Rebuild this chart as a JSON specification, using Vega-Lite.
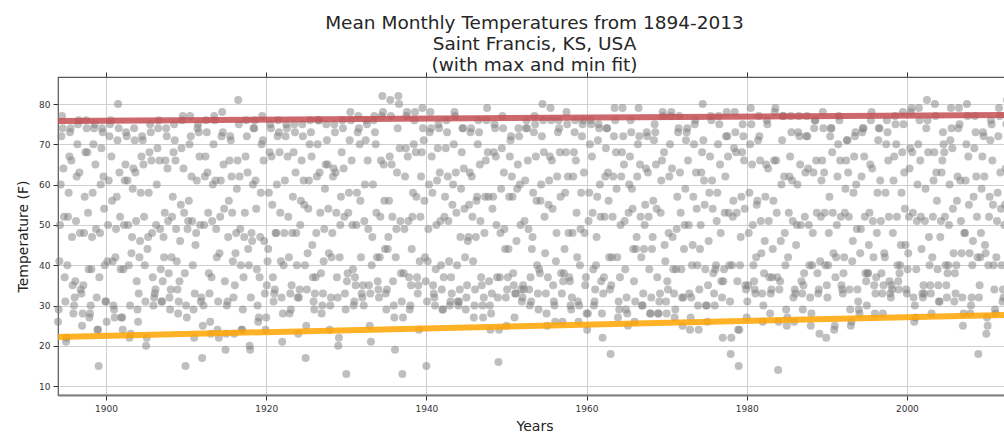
{
"$schema":"https://vega.github.io/schema/vega-lite/v6.json",
"width":953,"height":318,
"autosize":"none",
"padding":{"left":58,"top":77,"right":0,"bottom":42},
"background":"white",
"title":{"text":["Mean Monthly Temperatures from 1894-2013","Saint Francis, KS, USA","(with max and min fit)"],"font":"DejaVu Sans","fontSize":18.5,"fontWeight":"normal","color":"#262626","lineHeight":21,"anchor":"middle","offset":-3},
"config":{"view":{"stroke":"#555","strokeWidth":1.2},
"axis":{"labelFont":"DejaVu Sans","titleFont":"DejaVu Sans","labelFontSize":9,"labelColor":"#333","titleFontSize":14,"titleFontWeight":"normal","titleColor":"#222","tickColor":"#333","tickSize":5,"gridColor":"#cfcfcf","gridWidth":1,"domain":false}},
"datasets":{
"fit":[{"x":1894,"t":75.8,"fit":"max"},{"x":2013,"t":77.3,"fit":"max"},{"x":1894,"t":22.2,"fit":"min"},{"x":2013,"t":27.7,"fit":"min"}],
"pts":[
{"x":1894,"t":26},{"x":1894.08,"t":29},{"x":1894.17,"t":41},{"x":1894.25,"t":50},{"x":1894.33,"t":60},{"x":1894.42,"t":72},{"x":1894.5,"t":77},{"x":1894.58,"t":74},{"x":1894.67,"t":64},{"x":1894.75,"t":52},{"x":1894.83,"t":37},{"x":1894.92,"t":31},
{"x":1895,"t":21},{"x":1895.08,"t":22},{"x":1895.17,"t":40},{"x":1895.25,"t":52},{"x":1895.33,"t":58},{"x":1895.42,"t":67},{"x":1895.5,"t":73},{"x":1895.58,"t":74},{"x":1895.67,"t":66},{"x":1895.75,"t":47},{"x":1895.83,"t":35},{"x":1895.92,"t":28},
{"x":1896,"t":30},{"x":1896.08,"t":32},{"x":1896.17,"t":36},{"x":1896.25,"t":51},{"x":1896.33,"t":62},{"x":1896.42,"t":70},{"x":1896.5,"t":75},{"x":1896.58,"t":76},{"x":1896.67,"t":63},{"x":1896.75,"t":48},{"x":1896.83,"t":34},{"x":1896.92,"t":33},
{"x":1897,"t":25},{"x":1897.08,"t":28},{"x":1897.17,"t":35},{"x":1897.25,"t":48},{"x":1897.33,"t":57},{"x":1897.42,"t":68},{"x":1897.5,"t":76},{"x":1897.58,"t":74},{"x":1897.67,"t":68},{"x":1897.75,"t":53},{"x":1897.83,"t":39},{"x":1897.92,"t":27},
{"x":1898,"t":28},{"x":1898.08,"t":30},{"x":1898.17,"t":39},{"x":1898.25,"t":47},{"x":1898.33,"t":58},{"x":1898.42,"t":70},{"x":1898.5,"t":74},{"x":1898.58,"t":75},{"x":1898.67,"t":65},{"x":1898.75,"t":49},{"x":1898.83,"t":32},{"x":1898.92,"t":24},
{"x":1899,"t":24},{"x":1899.08,"t":15},{"x":1899.17,"t":37},{"x":1899.25,"t":48},{"x":1899.33,"t":60},{"x":1899.42,"t":69},{"x":1899.5,"t":74},{"x":1899.58,"t":73},{"x":1899.67,"t":62},{"x":1899.75,"t":54},{"x":1899.83,"t":40},{"x":1899.92,"t":31},
{"x":1900,"t":31},{"x":1900.08,"t":26},{"x":1900.17,"t":41},{"x":1900.25,"t":50},{"x":1900.33,"t":61},{"x":1900.42,"t":72},{"x":1900.5,"t":75},{"x":1900.58,"t":76},{"x":1900.67,"t":67},{"x":1900.75,"t":56},{"x":1900.83,"t":41},{"x":1900.92,"t":30},
{"x":1901,"t":29},{"x":1901.08,"t":27},{"x":1901.17,"t":42},{"x":1901.25,"t":49},{"x":1901.33,"t":57},{"x":1901.42,"t":71},{"x":1901.5,"t":80},{"x":1901.58,"t":74},{"x":1901.67,"t":63},{"x":1901.75,"t":52},{"x":1901.83,"t":39},{"x":1901.92,"t":27},
{"x":1902,"t":27},{"x":1902.08,"t":24},{"x":1902.17,"t":39},{"x":1902.25,"t":50},{"x":1902.33,"t":61},{"x":1902.42,"t":65},{"x":1902.5,"t":73},{"x":1902.58,"t":72},{"x":1902.67,"t":61},{"x":1902.75,"t":50},{"x":1902.83,"t":40},{"x":1902.92,"t":22},
{"x":1903,"t":30},{"x":1903.08,"t":23},{"x":1903.17,"t":43},{"x":1903.25,"t":47},{"x":1903.33,"t":59},{"x":1903.42,"t":64},{"x":1903.5,"t":74},{"x":1903.58,"t":71},{"x":1903.67,"t":63},{"x":1903.75,"t":51},{"x":1903.83,"t":36},{"x":1903.92,"t":29},
{"x":1904,"t":26},{"x":1904.08,"t":33},{"x":1904.17,"t":42},{"x":1904.25,"t":46},{"x":1904.33,"t":58},{"x":1904.42,"t":67},{"x":1904.5,"t":72},{"x":1904.58,"t":71},{"x":1904.67,"t":65},{"x":1904.75,"t":52},{"x":1904.83,"t":40},{"x":1904.92,"t":31},
{"x":1905,"t":20},{"x":1905.08,"t":22},{"x":1905.17,"t":44},{"x":1905.25,"t":47},{"x":1905.33,"t":58},{"x":1905.42,"t":68},{"x":1905.5,"t":75},{"x":1905.58,"t":73},{"x":1905.67,"t":66},{"x":1905.75,"t":48},{"x":1905.83,"t":37},{"x":1905.92,"t":30},
{"x":1906,"t":32},{"x":1906.08,"t":33},{"x":1906.17,"t":34},{"x":1906.25,"t":50},{"x":1906.33,"t":60},{"x":1906.42,"t":69},{"x":1906.5,"t":74},{"x":1906.58,"t":76},{"x":1906.67,"t":66},{"x":1906.75,"t":49},{"x":1906.83,"t":39},{"x":1906.92,"t":31},
{"x":1907,"t":31},{"x":1907.08,"t":36},{"x":1907.17,"t":47},{"x":1907.25,"t":42},{"x":1907.33,"t":53},{"x":1907.42,"t":66},{"x":1907.5,"t":74},{"x":1907.58,"t":72},{"x":1907.67,"t":64},{"x":1907.75,"t":51},{"x":1907.83,"t":38},{"x":1907.92,"t":32},
{"x":1908,"t":29},{"x":1908.08,"t":34},{"x":1908.17,"t":42},{"x":1908.25,"t":52},{"x":1908.33,"t":57},{"x":1908.42,"t":68},{"x":1908.5,"t":75},{"x":1908.58,"t":71},{"x":1908.67,"t":66},{"x":1908.75,"t":49},{"x":1908.83,"t":41},{"x":1908.92,"t":34},
{"x":1909,"t":28},{"x":1909.08,"t":31},{"x":1909.17,"t":36},{"x":1909.25,"t":46},{"x":1909.33,"t":55},{"x":1909.42,"t":69},{"x":1909.5,"t":76},{"x":1909.58,"t":77},{"x":1909.67,"t":64},{"x":1909.75,"t":53},{"x":1909.83,"t":38},{"x":1909.92,"t":15},
{"x":1910,"t":30},{"x":1910.08,"t":27},{"x":1910.17,"t":49},{"x":1910.25,"t":51},{"x":1910.33,"t":56},{"x":1910.42,"t":70},{"x":1910.5,"t":77},{"x":1910.58,"t":72},{"x":1910.67,"t":62},{"x":1910.75,"t":51},{"x":1910.83,"t":40},{"x":1910.92,"t":29},
{"x":1911,"t":22},{"x":1911.08,"t":33},{"x":1911.17,"t":45},{"x":1911.25,"t":48},{"x":1911.33,"t":61},{"x":1911.42,"t":74},{"x":1911.5,"t":75},{"x":1911.58,"t":73},{"x":1911.67,"t":67},{"x":1911.75,"t":50},{"x":1911.83,"t":31},{"x":1911.92,"t":32},
{"x":1912,"t":17},{"x":1912.08,"t":25},{"x":1912.17,"t":30},{"x":1912.25,"t":50},{"x":1912.33,"t":62},{"x":1912.42,"t":67},{"x":1912.5,"t":76},{"x":1912.58,"t":73},{"x":1912.67,"t":63},{"x":1912.75,"t":53},{"x":1912.83,"t":38},{"x":1912.92,"t":33},
{"x":1913,"t":26},{"x":1913.08,"t":23},{"x":1913.17,"t":37},{"x":1913.25,"t":51},{"x":1913.33,"t":60},{"x":1913.42,"t":70},{"x":1913.5,"t":77},{"x":1913.58,"t":76},{"x":1913.67,"t":61},{"x":1913.75,"t":49},{"x":1913.83,"t":42},{"x":1913.92,"t":24},
{"x":1914,"t":31},{"x":1914.08,"t":22},{"x":1914.17,"t":43},{"x":1914.25,"t":52},{"x":1914.33,"t":61},{"x":1914.42,"t":72},{"x":1914.5,"t":78},{"x":1914.58,"t":73},{"x":1914.67,"t":65},{"x":1914.75,"t":54},{"x":1914.83,"t":36},{"x":1914.92,"t":19},
{"x":1915,"t":23},{"x":1915.08,"t":30},{"x":1915.17,"t":31},{"x":1915.25,"t":47},{"x":1915.33,"t":56},{"x":1915.42,"t":66},{"x":1915.5,"t":72},{"x":1915.58,"t":71},{"x":1915.67,"t":62},{"x":1915.75,"t":53},{"x":1915.83,"t":41},{"x":1915.92,"t":32},
{"x":1916,"t":23},{"x":1916.08,"t":35},{"x":1916.17,"t":43},{"x":1916.25,"t":48},{"x":1916.33,"t":59},{"x":1916.42,"t":66},{"x":1916.5,"t":81},{"x":1916.58,"t":75},{"x":1916.67,"t":62},{"x":1916.75,"t":49},{"x":1916.83,"t":40},{"x":1916.92,"t":24},
{"x":1917,"t":24},{"x":1917.08,"t":29},{"x":1917.17,"t":37},{"x":1917.25,"t":47},{"x":1917.33,"t":53},{"x":1917.42,"t":67},{"x":1917.5,"t":76},{"x":1917.58,"t":72},{"x":1917.67,"t":63},{"x":1917.75,"t":44},{"x":1917.83,"t":40},{"x":1917.92,"t":20},
{"x":1918,"t":19},{"x":1918.08,"t":32},{"x":1918.17,"t":48},{"x":1918.25,"t":46},{"x":1918.33,"t":60},{"x":1918.42,"t":74},{"x":1918.5,"t":74},{"x":1918.58,"t":76},{"x":1918.67,"t":61},{"x":1918.75,"t":54},{"x":1918.83,"t":39},{"x":1918.92,"t":30},
{"x":1919,"t":26},{"x":1919.08,"t":27},{"x":1919.17,"t":37},{"x":1919.25,"t":47},{"x":1919.33,"t":58},{"x":1919.42,"t":70},{"x":1919.5,"t":77},{"x":1919.58,"t":71},{"x":1919.67,"t":66},{"x":1919.75,"t":46},{"x":1919.83,"t":33},{"x":1919.92,"t":24},
{"x":1920,"t":27},{"x":1920.08,"t":35},{"x":1920.17,"t":41},{"x":1920.25,"t":44},{"x":1920.33,"t":58},{"x":1920.42,"t":68},{"x":1920.5,"t":75},{"x":1920.58,"t":74},{"x":1920.67,"t":67},{"x":1920.75,"t":55},{"x":1920.83,"t":37},{"x":1920.92,"t":31},
{"x":1921,"t":33},{"x":1921.08,"t":34},{"x":1921.17,"t":48},{"x":1921.25,"t":48},{"x":1921.33,"t":60},{"x":1921.42,"t":72},{"x":1921.5,"t":76},{"x":1921.58,"t":73},{"x":1921.67,"t":68},{"x":1921.75,"t":53},{"x":1921.83,"t":41},{"x":1921.92,"t":32},
{"x":1922,"t":21},{"x":1922.08,"t":28},{"x":1922.17,"t":40},{"x":1922.25,"t":48},{"x":1922.33,"t":61},{"x":1922.42,"t":72},{"x":1922.5,"t":75},{"x":1922.58,"t":74},{"x":1922.67,"t":67},{"x":1922.75,"t":52},{"x":1922.83,"t":42},{"x":1922.92,"t":28},
{"x":1923,"t":33},{"x":1923.08,"t":29},{"x":1923.17,"t":35},{"x":1923.25,"t":48},{"x":1923.33,"t":57},{"x":1923.42,"t":68},{"x":1923.5,"t":75},{"x":1923.58,"t":73},{"x":1923.67,"t":63},{"x":1923.75,"t":48},{"x":1923.83,"t":40},{"x":1923.92,"t":32},
{"x":1924,"t":23},{"x":1924.08,"t":32},{"x":1924.17,"t":34},{"x":1924.25,"t":50},{"x":1924.33,"t":56},{"x":1924.42,"t":66},{"x":1924.5,"t":75},{"x":1924.58,"t":72},{"x":1924.67,"t":61},{"x":1924.75,"t":55},{"x":1924.83,"t":40},{"x":1924.92,"t":17},
{"x":1925,"t":25},{"x":1925.08,"t":34},{"x":1925.17,"t":43},{"x":1925.25,"t":54},{"x":1925.33,"t":61},{"x":1925.42,"t":70},{"x":1925.5,"t":76},{"x":1925.58,"t":73},{"x":1925.67,"t":67},{"x":1925.75,"t":45},{"x":1925.83,"t":37},{"x":1925.92,"t":31},
{"x":1926,"t":29},{"x":1926.08,"t":33},{"x":1926.17,"t":37},{"x":1926.25,"t":48},{"x":1926.33,"t":62},{"x":1926.42,"t":70},{"x":1926.5,"t":76},{"x":1926.58,"t":76},{"x":1926.67,"t":63},{"x":1926.75,"t":53},{"x":1926.83,"t":38},{"x":1926.92,"t":28},
{"x":1927,"t":30},{"x":1927.08,"t":33},{"x":1927.17,"t":41},{"x":1927.25,"t":49},{"x":1927.33,"t":59},{"x":1927.42,"t":65},{"x":1927.5,"t":75},{"x":1927.58,"t":71},{"x":1927.67,"t":65},{"x":1927.75,"t":54},{"x":1927.83,"t":43},{"x":1927.92,"t":24},
{"x":1928,"t":30},{"x":1928.08,"t":32},{"x":1928.17,"t":42},{"x":1928.25,"t":48},{"x":1928.33,"t":62},{"x":1928.42,"t":64},{"x":1928.5,"t":75},{"x":1928.58,"t":73},{"x":1928.67,"t":63},{"x":1928.75,"t":53},{"x":1928.83,"t":37},{"x":1928.92,"t":32},
{"x":1929,"t":20},{"x":1929.08,"t":22},{"x":1929.17,"t":42},{"x":1929.25,"t":50},{"x":1929.33,"t":57},{"x":1929.42,"t":68},{"x":1929.5,"t":76},{"x":1929.58,"t":74},{"x":1929.67,"t":64},{"x":1929.75,"t":52},{"x":1929.83,"t":33},{"x":1929.92,"t":29},
{"x":1930,"t":13},{"x":1930.08,"t":36},{"x":1930.17,"t":38},{"x":1930.25,"t":53},{"x":1930.33,"t":58},{"x":1930.42,"t":71},{"x":1930.5,"t":78},{"x":1930.58,"t":76},{"x":1930.67,"t":66},{"x":1930.75,"t":50},{"x":1930.83,"t":39},{"x":1930.92,"t":30},
{"x":1931,"t":31},{"x":1931.08,"t":37},{"x":1931.17,"t":35},{"x":1931.25,"t":50},{"x":1931.33,"t":58},{"x":1931.42,"t":73},{"x":1931.5,"t":77},{"x":1931.58,"t":74},{"x":1931.67,"t":70},{"x":1931.75,"t":56},{"x":1931.83,"t":42},{"x":1931.92,"t":33},
{"x":1932,"t":32},{"x":1932.08,"t":35},{"x":1932.17,"t":30},{"x":1932.25,"t":51},{"x":1932.33,"t":60},{"x":1932.42,"t":71},{"x":1932.5,"t":76},{"x":1932.58,"t":75},{"x":1932.67,"t":66},{"x":1932.75,"t":49},{"x":1932.83,"t":35},{"x":1932.92,"t":25},
{"x":1933,"t":33},{"x":1933.08,"t":21},{"x":1933.17,"t":40},{"x":1933.25,"t":47},{"x":1933.33,"t":60},{"x":1933.42,"t":76},{"x":1933.5,"t":77},{"x":1933.58,"t":73},{"x":1933.67,"t":70},{"x":1933.75,"t":53},{"x":1933.83,"t":42},{"x":1933.92,"t":36},
{"x":1934,"t":34},{"x":1934.08,"t":32},{"x":1934.17,"t":42},{"x":1934.25,"t":52},{"x":1934.33,"t":66},{"x":1934.42,"t":77},{"x":1934.5,"t":82},{"x":1934.58,"t":78},{"x":1934.67,"t":65},{"x":1934.75,"t":56},{"x":1934.83,"t":44},{"x":1934.92,"t":33},
{"x":1935,"t":29},{"x":1935.08,"t":34},{"x":1935.17,"t":44},{"x":1935.25,"t":47},{"x":1935.33,"t":56},{"x":1935.42,"t":67},{"x":1935.5,"t":81},{"x":1935.58,"t":77},{"x":1935.67,"t":65},{"x":1935.75,"t":52},{"x":1935.83,"t":36},{"x":1935.92,"t":30},
{"x":1936,"t":27},{"x":1936.08,"t":19},{"x":1936.17,"t":42},{"x":1936.25,"t":49},{"x":1936.33,"t":63},{"x":1936.42,"t":74},{"x":1936.5,"t":82},{"x":1936.58,"t":80},{"x":1936.67,"t":69},{"x":1936.75,"t":51},{"x":1936.83,"t":38},{"x":1936.92,"t":31},
{"x":1937,"t":13},{"x":1937.08,"t":27},{"x":1937.17,"t":38},{"x":1937.25,"t":49},{"x":1937.33,"t":62},{"x":1937.42,"t":69},{"x":1937.5,"t":77},{"x":1937.58,"t":78},{"x":1937.67,"t":67},{"x":1937.75,"t":51},{"x":1937.83,"t":37},{"x":1937.92,"t":29},
{"x":1938,"t":30},{"x":1938.08,"t":35},{"x":1938.17,"t":44},{"x":1938.25,"t":52},{"x":1938.33,"t":58},{"x":1938.42,"t":70},{"x":1938.5,"t":76},{"x":1938.58,"t":78},{"x":1938.67,"t":68},{"x":1938.75,"t":57},{"x":1938.83,"t":37},{"x":1938.92,"t":33},
{"x":1939,"t":35},{"x":1939.08,"t":24},{"x":1939.17,"t":41},{"x":1939.25,"t":52},{"x":1939.33,"t":62},{"x":1939.42,"t":68},{"x":1939.5,"t":79},{"x":1939.58,"t":74},{"x":1939.67,"t":71},{"x":1939.75,"t":56},{"x":1939.83,"t":42},{"x":1939.92,"t":36},
{"x":1940,"t":15},{"x":1940.08,"t":31},{"x":1940.17,"t":41},{"x":1940.25,"t":49},{"x":1940.33,"t":60},{"x":1940.42,"t":73},{"x":1940.5,"t":78},{"x":1940.58,"t":74},{"x":1940.67,"t":67},{"x":1940.75,"t":58},{"x":1940.83,"t":35},{"x":1940.92,"t":33},
{"x":1941,"t":32},{"x":1941.08,"t":30},{"x":1941.17,"t":39},{"x":1941.25,"t":50},{"x":1941.33,"t":61},{"x":1941.42,"t":69},{"x":1941.5,"t":75},{"x":1941.58,"t":74},{"x":1941.67,"t":63},{"x":1941.75,"t":51},{"x":1941.83,"t":40},{"x":1941.92,"t":34},
{"x":1942,"t":29},{"x":1942.08,"t":29},{"x":1942.17,"t":37},{"x":1942.25,"t":52},{"x":1942.33,"t":57},{"x":1942.42,"t":69},{"x":1942.5,"t":76},{"x":1942.58,"t":73},{"x":1942.67,"t":62},{"x":1942.75,"t":51},{"x":1942.83,"t":41},{"x":1942.92,"t":30},
{"x":1943,"t":31},{"x":1943.08,"t":37},{"x":1943.17,"t":33},{"x":1943.25,"t":55},{"x":1943.33,"t":60},{"x":1943.42,"t":70},{"x":1943.5,"t":78},{"x":1943.58,"t":77},{"x":1943.67,"t":63},{"x":1943.75,"t":53},{"x":1943.83,"t":40},{"x":1943.92,"t":31},
{"x":1944,"t":30},{"x":1944.08,"t":31},{"x":1944.17,"t":34},{"x":1944.25,"t":47},{"x":1944.33,"t":59},{"x":1944.42,"t":68},{"x":1944.5,"t":74},{"x":1944.58,"t":74},{"x":1944.67,"t":64},{"x":1944.75,"t":54},{"x":1944.83,"t":42},{"x":1944.92,"t":29},
{"x":1945,"t":32},{"x":1945.08,"t":35},{"x":1945.17,"t":46},{"x":1945.25,"t":47},{"x":1945.33,"t":55},{"x":1945.42,"t":63},{"x":1945.5,"t":73},{"x":1945.58,"t":74},{"x":1945.67,"t":62},{"x":1945.75,"t":52},{"x":1945.83,"t":41},{"x":1945.92,"t":27},
{"x":1946,"t":30},{"x":1946.08,"t":34},{"x":1946.17,"t":47},{"x":1946.25,"t":56},{"x":1946.33,"t":57},{"x":1946.42,"t":70},{"x":1946.5,"t":76},{"x":1946.58,"t":73},{"x":1946.67,"t":65},{"x":1946.75,"t":51},{"x":1946.83,"t":37},{"x":1946.92,"t":35},
{"x":1947,"t":30},{"x":1947.08,"t":27},{"x":1947.17,"t":32},{"x":1947.25,"t":48},{"x":1947.33,"t":57},{"x":1947.42,"t":66},{"x":1947.5,"t":76},{"x":1947.58,"t":79},{"x":1947.67,"t":68},{"x":1947.75,"t":57},{"x":1947.83,"t":36},{"x":1947.92,"t":30},
{"x":1948,"t":24},{"x":1948.08,"t":28},{"x":1948.17,"t":33},{"x":1948.25,"t":54},{"x":1948.33,"t":57},{"x":1948.42,"t":68},{"x":1948.5,"t":75},{"x":1948.58,"t":74},{"x":1948.67,"t":67},{"x":1948.75,"t":50},{"x":1948.83,"t":37},{"x":1948.92,"t":32},
{"x":1949,"t":16},{"x":1949.08,"t":24},{"x":1949.17,"t":37},{"x":1949.25,"t":48},{"x":1949.33,"t":59},{"x":1949.42,"t":69},{"x":1949.5,"t":77},{"x":1949.58,"t":74},{"x":1949.67,"t":63},{"x":1949.75,"t":49},{"x":1949.83,"t":44},{"x":1949.92,"t":32},
{"x":1950,"t":25},{"x":1950.08,"t":34},{"x":1950.17,"t":37},{"x":1950.25,"t":44},{"x":1950.33,"t":57},{"x":1950.42,"t":67},{"x":1950.5,"t":71},{"x":1950.58,"t":72},{"x":1950.67,"t":62},{"x":1950.75,"t":57},{"x":1950.83,"t":38},{"x":1950.92,"t":35},
{"x":1951,"t":27},{"x":1951.08,"t":33},{"x":1951.17,"t":33},{"x":1951.25,"t":46},{"x":1951.33,"t":59},{"x":1951.42,"t":65},{"x":1951.5,"t":74},{"x":1951.58,"t":72},{"x":1951.67,"t":60},{"x":1951.75,"t":50},{"x":1951.83,"t":34},{"x":1951.92,"t":31},
{"x":1952,"t":32},{"x":1952.08,"t":35},{"x":1952.17,"t":34},{"x":1952.25,"t":51},{"x":1952.33,"t":61},{"x":1952.42,"t":74},{"x":1952.5,"t":76},{"x":1952.58,"t":74},{"x":1952.67,"t":66},{"x":1952.75,"t":49},{"x":1952.83,"t":34},{"x":1952.92,"t":30},
{"x":1953,"t":37},{"x":1953.08,"t":31},{"x":1953.17,"t":44},{"x":1953.25,"t":47},{"x":1953.33,"t":58},{"x":1953.42,"t":73},{"x":1953.5,"t":77},{"x":1953.58,"t":75},{"x":1953.67,"t":67},{"x":1953.75,"t":56},{"x":1953.83,"t":40},{"x":1953.92,"t":33},
{"x":1954,"t":29},{"x":1954.08,"t":39},{"x":1954.17,"t":38},{"x":1954.25,"t":56},{"x":1954.33,"t":60},{"x":1954.42,"t":72},{"x":1954.5,"t":80},{"x":1954.58,"t":76},{"x":1954.67,"t":68},{"x":1954.75,"t":52},{"x":1954.83,"t":43},{"x":1954.92,"t":33},
{"x":1955,"t":28},{"x":1955.08,"t":25},{"x":1955.17,"t":37},{"x":1955.25,"t":55},{"x":1955.33,"t":61},{"x":1955.42,"t":67},{"x":1955.5,"t":79},{"x":1955.58,"t":76},{"x":1955.67,"t":66},{"x":1955.75,"t":54},{"x":1955.83,"t":35},{"x":1955.92,"t":31},
{"x":1956,"t":30},{"x":1956.08,"t":26},{"x":1956.17,"t":41},{"x":1956.25,"t":48},{"x":1956.33,"t":62},{"x":1956.42,"t":73},{"x":1956.5,"t":76},{"x":1956.58,"t":74},{"x":1956.67,"t":68},{"x":1956.75,"t":57},{"x":1956.83,"t":38},{"x":1956.92,"t":33},
{"x":1957,"t":26},{"x":1957.08,"t":36},{"x":1957.17,"t":38},{"x":1957.25,"t":44},{"x":1957.33,"t":58},{"x":1957.42,"t":68},{"x":1957.5,"t":78},{"x":1957.58,"t":75},{"x":1957.67,"t":62},{"x":1957.75,"t":48},{"x":1957.83,"t":37},{"x":1957.92,"t":36},
{"x":1958,"t":30},{"x":1958.08,"t":29},{"x":1958.17,"t":32},{"x":1958.25,"t":48},{"x":1958.33,"t":62},{"x":1958.42,"t":68},{"x":1958.5,"t":73},{"x":1958.58,"t":76},{"x":1958.67,"t":66},{"x":1958.75,"t":53},{"x":1958.83,"t":42},{"x":1958.92,"t":31},
{"x":1959,"t":26},{"x":1959.08,"t":30},{"x":1959.17,"t":40},{"x":1959.25,"t":49},{"x":1959.33,"t":58},{"x":1959.42,"t":72},{"x":1959.5,"t":75},{"x":1959.58,"t":76},{"x":1959.67,"t":63},{"x":1959.75,"t":48},{"x":1959.83,"t":35},{"x":1959.92,"t":37},
{"x":1960,"t":28},{"x":1960.08,"t":24},{"x":1960.17,"t":28},{"x":1960.25,"t":51},{"x":1960.33,"t":58},{"x":1960.42,"t":70},{"x":1960.5,"t":76},{"x":1960.58,"t":75},{"x":1960.67,"t":67},{"x":1960.75,"t":53},{"x":1960.83,"t":39},{"x":1960.92,"t":30},
{"x":1961,"t":31},{"x":1961.08,"t":34},{"x":1961.17,"t":40},{"x":1961.25,"t":47},{"x":1961.33,"t":57},{"x":1961.42,"t":71},{"x":1961.5,"t":75},{"x":1961.58,"t":74},{"x":1961.67,"t":60},{"x":1961.75,"t":52},{"x":1961.83,"t":36},{"x":1961.92,"t":28},
{"x":1962,"t":22},{"x":1962.08,"t":33},{"x":1962.17,"t":37},{"x":1962.25,"t":52},{"x":1962.33,"t":62},{"x":1962.42,"t":69},{"x":1962.5,"t":74},{"x":1962.58,"t":74},{"x":1962.67,"t":63},{"x":1962.75,"t":56},{"x":1962.83,"t":42},{"x":1962.92,"t":34},
{"x":1963,"t":18},{"x":1963.08,"t":35},{"x":1963.17,"t":42},{"x":1963.25,"t":52},{"x":1963.33,"t":62},{"x":1963.42,"t":72},{"x":1963.5,"t":79},{"x":1963.58,"t":76},{"x":1963.67,"t":68},{"x":1963.75,"t":59},{"x":1963.83,"t":42},{"x":1963.92,"t":27},
{"x":1964,"t":31},{"x":1964.08,"t":29},{"x":1964.17,"t":37},{"x":1964.25,"t":50},{"x":1964.33,"t":62},{"x":1964.42,"t":68},{"x":1964.5,"t":79},{"x":1964.58,"t":72},{"x":1964.67,"t":65},{"x":1964.75,"t":51},{"x":1964.83,"t":39},{"x":1964.92,"t":29},
{"x":1965,"t":32},{"x":1965.08,"t":28},{"x":1965.17,"t":25},{"x":1965.25,"t":53},{"x":1965.33,"t":60},{"x":1965.42,"t":67},{"x":1965.5,"t":76},{"x":1965.58,"t":73},{"x":1965.67,"t":59},{"x":1965.75,"t":54},{"x":1965.83,"t":44},{"x":1965.92,"t":36},
{"x":1966,"t":26},{"x":1966.08,"t":31},{"x":1966.17,"t":44},{"x":1966.25,"t":47},{"x":1966.33,"t":62},{"x":1966.42,"t":70},{"x":1966.5,"t":79},{"x":1966.58,"t":72},{"x":1966.67,"t":65},{"x":1966.75,"t":52},{"x":1966.83,"t":42},{"x":1966.92,"t":30},
{"x":1967,"t":30},{"x":1967.08,"t":33},{"x":1967.17,"t":44},{"x":1967.25,"t":50},{"x":1967.33,"t":55},{"x":1967.42,"t":64},{"x":1967.5,"t":73},{"x":1967.58,"t":72},{"x":1967.67,"t":63},{"x":1967.75,"t":52},{"x":1967.83,"t":39},{"x":1967.92,"t":28},
{"x":1968,"t":28},{"x":1968.08,"t":32},{"x":1968.17,"t":44},{"x":1968.25,"t":47},{"x":1968.33,"t":56},{"x":1968.42,"t":71},{"x":1968.5,"t":75},{"x":1968.58,"t":73},{"x":1968.67,"t":65},{"x":1968.75,"t":54},{"x":1968.83,"t":37},{"x":1968.92,"t":28},
{"x":1969,"t":28},{"x":1969.08,"t":31},{"x":1969.17,"t":33},{"x":1969.25,"t":53},{"x":1969.33,"t":61},{"x":1969.42,"t":66},{"x":1969.5,"t":78},{"x":1969.58,"t":77},{"x":1969.67,"t":68},{"x":1969.75,"t":45},{"x":1969.83,"t":41},{"x":1969.92,"t":31},
{"x":1970,"t":28},{"x":1970.08,"t":36},{"x":1970.17,"t":34},{"x":1970.25,"t":48},{"x":1970.33,"t":62},{"x":1970.42,"t":70},{"x":1970.5,"t":77},{"x":1970.58,"t":78},{"x":1970.67,"t":64},{"x":1970.75,"t":47},{"x":1970.83,"t":39},{"x":1970.92,"t":33},
{"x":1971,"t":27},{"x":1971.08,"t":29},{"x":1971.17,"t":39},{"x":1971.25,"t":49},{"x":1971.33,"t":57},{"x":1971.42,"t":73},{"x":1971.5,"t":74},{"x":1971.58,"t":77},{"x":1971.67,"t":63},{"x":1971.75,"t":53},{"x":1971.83,"t":39},{"x":1971.92,"t":32},
{"x":1972,"t":25},{"x":1972.08,"t":32},{"x":1972.17,"t":44},{"x":1972.25,"t":50},{"x":1972.33,"t":59},{"x":1972.42,"t":71},{"x":1972.5,"t":73},{"x":1972.58,"t":74},{"x":1972.67,"t":66},{"x":1972.75,"t":50},{"x":1972.83,"t":33},{"x":1972.92,"t":24},
{"x":1973,"t":27},{"x":1973.08,"t":32},{"x":1973.17,"t":40},{"x":1973.25,"t":45},{"x":1973.33,"t":57},{"x":1973.42,"t":70},{"x":1973.5,"t":75},{"x":1973.58,"t":76},{"x":1973.67,"t":63},{"x":1973.75,"t":54},{"x":1973.83,"t":40},{"x":1973.92,"t":30},
{"x":1974,"t":24},{"x":1974.08,"t":34},{"x":1974.17,"t":44},{"x":1974.25,"t":50},{"x":1974.33,"t":63},{"x":1974.42,"t":68},{"x":1974.5,"t":80},{"x":1974.58,"t":71},{"x":1974.67,"t":61},{"x":1974.75,"t":55},{"x":1974.83,"t":39},{"x":1974.92,"t":30},
{"x":1975,"t":30},{"x":1975.08,"t":26},{"x":1975.17,"t":35},{"x":1975.25,"t":46},{"x":1975.33,"t":58},{"x":1975.42,"t":67},{"x":1975.5,"t":77},{"x":1975.58,"t":76},{"x":1975.67,"t":61},{"x":1975.75,"t":54},{"x":1975.83,"t":38},{"x":1975.92,"t":33},
{"x":1976,"t":30},{"x":1976.08,"t":39},{"x":1976.17,"t":40},{"x":1976.25,"t":51},{"x":1976.33,"t":58},{"x":1976.42,"t":70},{"x":1976.5,"t":77},{"x":1976.58,"t":75},{"x":1976.67,"t":65},{"x":1976.75,"t":48},{"x":1976.83,"t":36},{"x":1976.92,"t":32},
{"x":1977,"t":22},{"x":1977.08,"t":36},{"x":1977.17,"t":39},{"x":1977.25,"t":53},{"x":1977.33,"t":62},{"x":1977.42,"t":72},{"x":1977.5,"t":78},{"x":1977.58,"t":72},{"x":1977.67,"t":67},{"x":1977.75,"t":53},{"x":1977.83,"t":40},{"x":1977.92,"t":31},
{"x":1978,"t":18},{"x":1978.08,"t":22},{"x":1978.17,"t":40},{"x":1978.25,"t":52},{"x":1978.33,"t":56},{"x":1978.42,"t":69},{"x":1978.5,"t":78},{"x":1978.58,"t":73},{"x":1978.67,"t":68},{"x":1978.75,"t":53},{"x":1978.83,"t":36},{"x":1978.92,"t":24},
{"x":1979,"t":15},{"x":1979.08,"t":24},{"x":1979.17,"t":40},{"x":1979.25,"t":47},{"x":1979.33,"t":57},{"x":1979.42,"t":68},{"x":1979.5,"t":75},{"x":1979.58,"t":72},{"x":1979.67,"t":66},{"x":1979.75,"t":54},{"x":1979.83,"t":35},{"x":1979.92,"t":34},
{"x":1980,"t":27},{"x":1980.08,"t":31},{"x":1980.17,"t":35},{"x":1980.25,"t":48},{"x":1980.33,"t":58},{"x":1980.42,"t":70},{"x":1980.5,"t":79},{"x":1980.58,"t":75},{"x":1980.67,"t":65},{"x":1980.75,"t":50},{"x":1980.83,"t":40},{"x":1980.92,"t":36},
{"x":1981,"t":34},{"x":1981.08,"t":33},{"x":1981.17,"t":42},{"x":1981.25,"t":55},{"x":1981.33,"t":56},{"x":1981.42,"t":71},{"x":1981.5,"t":77},{"x":1981.58,"t":72},{"x":1981.67,"t":66},{"x":1981.75,"t":51},{"x":1981.83,"t":43},{"x":1981.92,"t":33},
{"x":1982,"t":26},{"x":1982.08,"t":30},{"x":1982.17,"t":38},{"x":1982.25,"t":46},{"x":1982.33,"t":57},{"x":1982.42,"t":65},{"x":1982.5,"t":76},{"x":1982.58,"t":75},{"x":1982.67,"t":64},{"x":1982.75,"t":51},{"x":1982.83,"t":37},{"x":1982.92,"t":28},
{"x":1983,"t":33},{"x":1983.08,"t":34},{"x":1983.17,"t":37},{"x":1983.25,"t":44},{"x":1983.33,"t":56},{"x":1983.42,"t":66},{"x":1983.5,"t":78},{"x":1983.58,"t":79},{"x":1983.67,"t":66},{"x":1983.75,"t":53},{"x":1983.83,"t":37},{"x":1983.92,"t":14},
{"x":1984,"t":26},{"x":1984.08,"t":34},{"x":1984.17,"t":36},{"x":1984.25,"t":46},{"x":1984.33,"t":60},{"x":1984.42,"t":71},{"x":1984.5,"t":77},{"x":1984.58,"t":77},{"x":1984.67,"t":62},{"x":1984.75,"t":48},{"x":1984.83,"t":40},{"x":1984.92,"t":29},
{"x":1985,"t":25},{"x":1985.08,"t":27},{"x":1985.17,"t":42},{"x":1985.25,"t":53},{"x":1985.33,"t":62},{"x":1985.42,"t":67},{"x":1985.5,"t":77},{"x":1985.58,"t":73},{"x":1985.67,"t":61},{"x":1985.75,"t":51},{"x":1985.83,"t":32},{"x":1985.92,"t":26},
{"x":1986,"t":34},{"x":1986.08,"t":33},{"x":1986.17,"t":45},{"x":1986.25,"t":50},{"x":1986.33,"t":60},{"x":1986.42,"t":73},{"x":1986.5,"t":77},{"x":1986.58,"t":72},{"x":1986.67,"t":65},{"x":1986.75,"t":50},{"x":1986.83,"t":36},{"x":1986.92,"t":33},
{"x":1987,"t":29},{"x":1987.08,"t":35},{"x":1987.17,"t":38},{"x":1987.25,"t":52},{"x":1987.33,"t":63},{"x":1987.42,"t":72},{"x":1987.5,"t":77},{"x":1987.58,"t":72},{"x":1987.67,"t":64},{"x":1987.75,"t":50},{"x":1987.83,"t":40},{"x":1987.92,"t":32},
{"x":1988,"t":25},{"x":1988.08,"t":28},{"x":1988.17,"t":40},{"x":1988.25,"t":48},{"x":1988.33,"t":63},{"x":1988.42,"t":74},{"x":1988.5,"t":76},{"x":1988.58,"t":76},{"x":1988.67,"t":66},{"x":1988.75,"t":53},{"x":1988.83,"t":38},{"x":1988.92,"t":33},
{"x":1989,"t":34},{"x":1989.08,"t":23},{"x":1989.17,"t":41},{"x":1989.25,"t":52},{"x":1989.33,"t":61},{"x":1989.42,"t":66},{"x":1989.5,"t":78},{"x":1989.58,"t":74},{"x":1989.67,"t":63},{"x":1989.75,"t":53},{"x":1989.83,"t":40},{"x":1989.92,"t":22},
{"x":1990,"t":35},{"x":1990.08,"t":32},{"x":1990.17,"t":40},{"x":1990.25,"t":48},{"x":1990.33,"t":57},{"x":1990.42,"t":72},{"x":1990.5,"t":74},{"x":1990.58,"t":74},{"x":1990.67,"t":68},{"x":1990.75,"t":53},{"x":1990.83,"t":43},{"x":1990.92,"t":24},
{"x":1991,"t":25},{"x":1991.08,"t":37},{"x":1991.17,"t":42},{"x":1991.25,"t":50},{"x":1991.33,"t":62},{"x":1991.42,"t":70},{"x":1991.5,"t":77},{"x":1991.58,"t":76},{"x":1991.67,"t":66},{"x":1991.75,"t":52},{"x":1991.83,"t":35},{"x":1991.92,"t":34},
{"x":1992,"t":33},{"x":1992.08,"t":38},{"x":1992.17,"t":42},{"x":1992.25,"t":53},{"x":1992.33,"t":59},{"x":1992.42,"t":66},{"x":1992.5,"t":71},{"x":1992.58,"t":71},{"x":1992.67,"t":63},{"x":1992.75,"t":52},{"x":1992.83,"t":34},{"x":1992.92,"t":29},
{"x":1993,"t":25},{"x":1993.08,"t":26},{"x":1993.17,"t":41},{"x":1993.25,"t":46},{"x":1993.33,"t":58},{"x":1993.42,"t":67},{"x":1993.5,"t":72},{"x":1993.58,"t":73},{"x":1993.67,"t":60},{"x":1993.75,"t":49},{"x":1993.83,"t":34},{"x":1993.92,"t":31},
{"x":1994,"t":29},{"x":1994.08,"t":28},{"x":1994.17,"t":43},{"x":1994.25,"t":49},{"x":1994.33,"t":62},{"x":1994.42,"t":73},{"x":1994.5,"t":74},{"x":1994.58,"t":74},{"x":1994.67,"t":67},{"x":1994.75,"t":52},{"x":1994.83,"t":38},{"x":1994.92,"t":36},
{"x":1995,"t":30},{"x":1995.08,"t":38},{"x":1995.17,"t":38},{"x":1995.25,"t":45},{"x":1995.33,"t":53},{"x":1995.42,"t":65},{"x":1995.5,"t":76},{"x":1995.58,"t":78},{"x":1995.67,"t":64},{"x":1995.75,"t":51},{"x":1995.83,"t":42},{"x":1995.92,"t":35},
{"x":1996,"t":28},{"x":1996.08,"t":33},{"x":1996.17,"t":37},{"x":1996.25,"t":48},{"x":1996.33,"t":58},{"x":1996.42,"t":71},{"x":1996.5,"t":74},{"x":1996.58,"t":74},{"x":1996.67,"t":61},{"x":1996.75,"t":51},{"x":1996.83,"t":38},{"x":1996.92,"t":33},
{"x":1997,"t":28},{"x":1997.08,"t":35},{"x":1997.17,"t":43},{"x":1997.25,"t":42},{"x":1997.33,"t":58},{"x":1997.42,"t":70},{"x":1997.5,"t":76},{"x":1997.58,"t":73},{"x":1997.67,"t":66},{"x":1997.75,"t":52},{"x":1997.83,"t":36},{"x":1997.92,"t":33},
{"x":1998,"t":32},{"x":1998.08,"t":35},{"x":1998.17,"t":34},{"x":1998.25,"t":48},{"x":1998.33,"t":61},{"x":1998.42,"t":67},{"x":1998.5,"t":77},{"x":1998.58,"t":75},{"x":1998.67,"t":70},{"x":1998.75,"t":52},{"x":1998.83,"t":40},{"x":1998.92,"t":36},
{"x":1999,"t":34},{"x":1999.08,"t":38},{"x":1999.17,"t":40},{"x":1999.25,"t":45},{"x":1999.33,"t":58},{"x":1999.42,"t":68},{"x":1999.5,"t":78},{"x":1999.58,"t":75},{"x":1999.67,"t":63},{"x":1999.75,"t":54},{"x":1999.83,"t":45},{"x":1999.92,"t":34},
{"x":2000,"t":33},{"x":2000.08,"t":39},{"x":2000.17,"t":43},{"x":2000.25,"t":52},{"x":2000.33,"t":64},{"x":2000.42,"t":69},{"x":2000.5,"t":78},{"x":2000.58,"t":79},{"x":2000.67,"t":68},{"x":2000.75,"t":53},{"x":2000.83,"t":32},{"x":2000.92,"t":26},
{"x":2001,"t":30},{"x":2001.08,"t":27},{"x":2001.17,"t":39},{"x":2001.25,"t":51},{"x":2001.33,"t":60},{"x":2001.42,"t":70},{"x":2001.5,"t":79},{"x":2001.58,"t":76},{"x":2001.67,"t":66},{"x":2001.75,"t":52},{"x":2001.83,"t":44},{"x":2001.92,"t":33},
{"x":2002,"t":32},{"x":2002.08,"t":35},{"x":2002.17,"t":33},{"x":2002.25,"t":51},{"x":2002.33,"t":59},{"x":2002.42,"t":74},{"x":2002.5,"t":81},{"x":2002.58,"t":76},{"x":2002.67,"t":68},{"x":2002.75,"t":47},{"x":2002.83,"t":40},{"x":2002.92,"t":35},
{"x":2003,"t":33},{"x":2003.08,"t":28},{"x":2003.17,"t":42},{"x":2003.25,"t":52},{"x":2003.33,"t":61},{"x":2003.42,"t":68},{"x":2003.5,"t":80},{"x":2003.58,"t":77},{"x":2003.67,"t":63},{"x":2003.75,"t":56},{"x":2003.83,"t":39},{"x":2003.92,"t":35},
{"x":2004,"t":31},{"x":2004.08,"t":31},{"x":2004.17,"t":47},{"x":2004.25,"t":51},{"x":2004.33,"t":63},{"x":2004.42,"t":66},{"x":2004.5,"t":73},{"x":2004.58,"t":70},{"x":2004.67,"t":68},{"x":2004.75,"t":52},{"x":2004.83,"t":40},{"x":2004.92,"t":35},
{"x":2005,"t":32},{"x":2005.08,"t":38},{"x":2005.17,"t":40},{"x":2005.25,"t":50},{"x":2005.33,"t":60},{"x":2005.42,"t":71},{"x":2005.5,"t":79},{"x":2005.58,"t":74},{"x":2005.67,"t":69},{"x":2005.75,"t":54},{"x":2005.83,"t":43},{"x":2005.92,"t":31},
{"x":2006,"t":38},{"x":2006.08,"t":33},{"x":2006.17,"t":40},{"x":2006.25,"t":56},{"x":2006.33,"t":62},{"x":2006.42,"t":74},{"x":2006.5,"t":79},{"x":2006.58,"t":75},{"x":2006.67,"t":61},{"x":2006.75,"t":51},{"x":2006.83,"t":43},{"x":2006.92,"t":32},
{"x":2007,"t":25},{"x":2007.08,"t":28},{"x":2007.17,"t":48},{"x":2007.25,"t":48},{"x":2007.33,"t":61},{"x":2007.42,"t":70},{"x":2007.5,"t":80},{"x":2007.58,"t":77},{"x":2007.67,"t":67},{"x":2007.75,"t":55},{"x":2007.83,"t":43},{"x":2007.92,"t":28},
{"x":2008,"t":30},{"x":2008.08,"t":32},{"x":2008.17,"t":40},{"x":2008.25,"t":46},{"x":2008.33,"t":57},{"x":2008.42,"t":69},{"x":2008.5,"t":77},{"x":2008.58,"t":73},{"x":2008.67,"t":62},{"x":2008.75,"t":52},{"x":2008.83,"t":42},{"x":2008.92,"t":18},
{"x":2009,"t":32},{"x":2009.08,"t":35},{"x":2009.17,"t":42},{"x":2009.25,"t":48},{"x":2009.33,"t":59},{"x":2009.42,"t":67},{"x":2009.5,"t":73},{"x":2009.58,"t":72},{"x":2009.67,"t":62},{"x":2009.75,"t":45},{"x":2009.83,"t":43},{"x":2009.92,"t":23},
{"x":2010,"t":27},{"x":2010.08,"t":25},{"x":2010.17,"t":40},{"x":2010.25,"t":52},{"x":2010.33,"t":57},{"x":2010.42,"t":71},{"x":2010.5,"t":76},{"x":2010.58,"t":75},{"x":2010.67,"t":66},{"x":2010.75,"t":55},{"x":2010.83,"t":40},{"x":2010.92,"t":34},
{"x":2011,"t":29},{"x":2011.08,"t":28},{"x":2011.17,"t":42},{"x":2011.25,"t":51},{"x":2011.33,"t":58},{"x":2011.42,"t":72},{"x":2011.5,"t":79},{"x":2011.58,"t":77},{"x":2011.67,"t":63},{"x":2011.75,"t":54},{"x":2011.83,"t":40},{"x":2011.92,"t":31},
{"x":2012,"t":34},{"x":2012.08,"t":32},{"x":2012.17,"t":50},{"x":2012.25,"t":55},{"x":2012.33,"t":64},{"x":2012.42,"t":75},{"x":2012.5,"t":81},{"x":2012.58,"t":77},{"x":2012.67,"t":67},{"x":2012.75,"t":51},{"x":2012.83,"t":44},{"x":2012.92,"t":34}
]},
"layer":[
{"data":{"name":"pts"},
"mark":{"type":"circle","size":64,"color":"#808080","opacity":0.5},
"encoding":{
"x":{"field":"x","type":"quantitative","scale":{"domain":[1894,2013],"nice":false,"zero":false},
"axis":{"orient":"bottom","values":[1900,1920,1940,1960,1980,2000],"format":"d","title":"Years","labelPadding":4,"titlePadding":6,"domain":true,"domainColor":"#808080","domainWidth":2}},
"y":{"field":"t","type":"quantitative","scale":{"domain":[7.8,86.7],"nice":false,"zero":false},
"axis":{"values":[10,20,30,40,50,60,70,80],"title":"Temperature (F)","labelPadding":3,"titlePadding":8}}}},
{"data":{"name":"fit"},
"mark":{"type":"line","strokeWidth":6,"opacity":0.85,"clip":true},
"encoding":{
"x":{"field":"x","type":"quantitative","axis":{"orient":"top","values":[1900,1920,1940,1960,1980,2000],"labels":false,"grid":false,"title":null,"tickSize":5}},
"y":{"field":"t","type":"quantitative"},
"color":{"field":"fit","type":"nominal","scale":{"domain":["max","min"],"range":["#c44e52","#ffa500"]},"legend":null}}}
],
"resolve":{"axis":{"x":"independent"}}
}
